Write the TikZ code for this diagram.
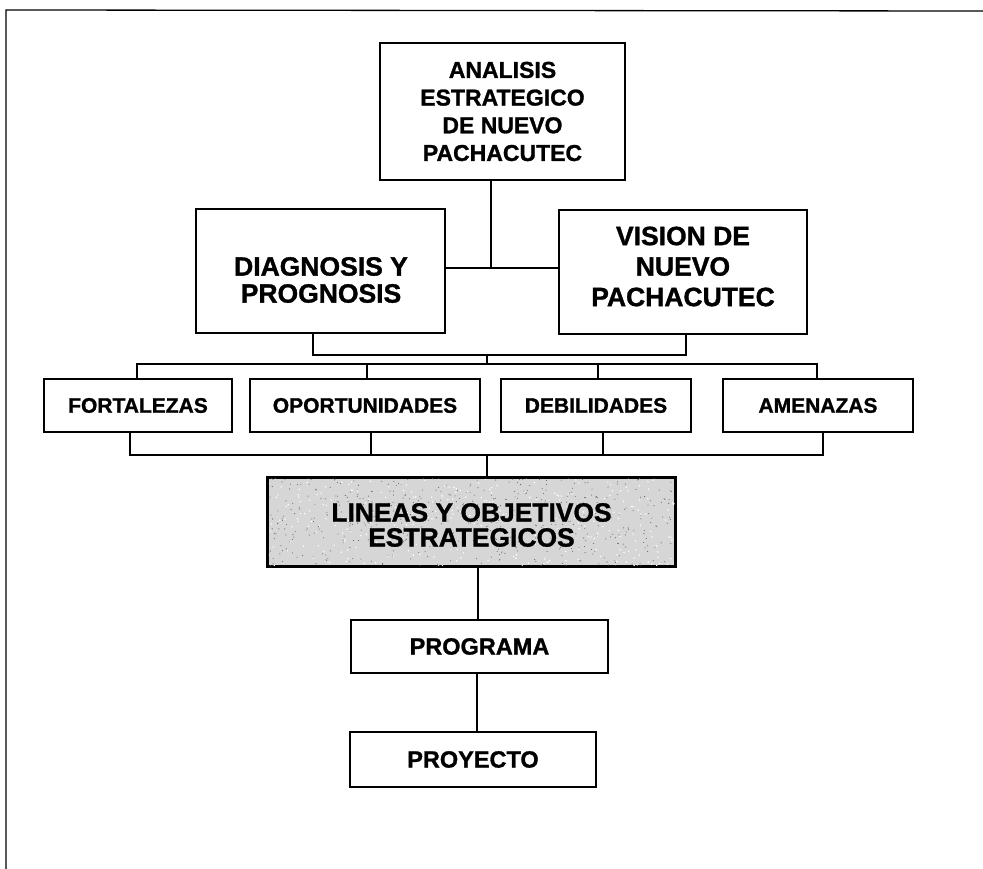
\documentclass[tikz,border=0pt]{standalone}
\usepackage{fontspec}
\setmainfont{Liberation Sans}[BoldFeatures={FakeBold=1.2}]
\usetikzlibrary{calc}
\begin{document}
\begin{tikzpicture}[x=1pt,y=-1pt,
  box/.style={draw=black,line width=1.6pt,fill=white,align=center,inner sep=0pt,
    font=\bfseries},
  txt/.style={align=center,inner sep=0pt},
  conn/.style={draw=black,line width=1.4pt},
  frame/.style={draw=black,line width=1.3pt}]
\useasboundingbox (0,0) rectangle (983,869);
% outer frame (continues beyond right and bottom edges)
\draw[frame] (6,869) -- (6,10) -- (983,11);

% nodes
\node[box,minimum width=245pt,minimum height=137pt,font={\bfseries\fontsize{23}{27.7}\selectfont}]
  (ana) at (502.5,111.5) {ANALISIS\\ESTRATEGICO\\DE NUEVO\\PACHACUTEC};
\node[box,minimum width=249pt,minimum height=124pt] (diag) at (320.5,271) {};
\node[txt,font={\bfseries\fontsize{26.5}{27}\selectfont}]
  (diagt) at (321,280) {DIAGNOSIS Y\\PROGNOSIS};
\node[box,minimum width=248pt,minimum height=124pt] (vis) at (683,272) {};
\node[txt,font={\bfseries\fontsize{26.5}{30.5}\selectfont}]
  (vist) at (683,266.5) {VISION DE\\NUEVO\\PACHACUTEC};

\tikzset{small/.style={box,minimum height=53pt,font={\bfseries\fontsize{21}{24}\selectfont}}}
\node[small,minimum width=188pt] (fort) at (138,405.5) {FORTALEZAS};
\node[small,minimum width=230pt] (opor) at (365,405.5) {OPORTUNIDADES};
\node[small,minimum width=190pt] (deb) at (596,405.5) {DEBILIDADES};
\node[small,minimum width=190pt] (ame) at (818,405.5) {AMENAZAS};

\node[box,fill=black!16,minimum width=407pt,minimum height=88pt] (lin) at (471.5,522) {};
% speckle texture of the scanned grey fill
\begin{scope}
  \clip (lin.south west) rectangle (lin.north east);
  \pgfmathsetseed{11}
  \foreach \i in {1,...,520}{
    \pgfmathsetmacro{\px}{268+407*rnd}
    \pgfmathsetmacro{\py}{478+88*rnd}
    \fill[black!60] (\px,\py) circle (0.55pt);
  }
  \foreach \i in {1,...,300}{
    \pgfmathsetmacro{\px}{268+407*rnd}
    \pgfmathsetmacro{\py}{478+88*rnd}
    \fill[white] (\px,\py) circle (0.8pt);
  }
\end{scope}
\draw[line width=1.6pt] (lin.south west) rectangle (lin.north east);
\node[txt,font={\bfseries\fontsize{26.4}{25}\selectfont}]
  (lint) at (471.5,525) {LINEAS Y OBJETIVOS\\ESTRATEGICOS};

\tikzset{low/.style={box,font={\bfseries\fontsize{23.5}{26}\selectfont}}}
\node[low,minimum width=257pt,minimum height=53pt] (prog) at (479.5,646.5) {PROGRAMA};
\node[low,minimum width=246pt,minimum height=55pt] (proy) at (473,759.5) {PROYECTO};

% junction coordinates
\coordinate (j1) at (491,268);
\coordinate (dv) at (487,355);
\coordinate (t4) at (487,364);
\coordinate (b4) at (487,455);
\coordinate (xd) at (313,0);
\coordinate (xv) at (686,0);
\coordinate (xf1) at (137,0);
\coordinate (xo1) at (367,0);
\coordinate (xd1) at (598,0);
\coordinate (xa1) at (817,0);
\coordinate (xf2) at (130,0);
\coordinate (xo2) at (371,0);
\coordinate (xd2) at (603,0);
\coordinate (xa2) at (823,0);
\coordinate (xp1) at (478,0);
\coordinate (xp2) at (477,0);

% connectors
\draw[conn] (ana.south -| j1) -- (j1);
\draw[conn] (diag.east |- j1) -- (vis.west |- j1);
\draw[conn] (diag.south -| xd) |- (dv) -| (vis.south -| xv);
\draw[conn] (dv) -- (t4);
\draw[conn] (fort.north -| xf1) |- (t4) -| (ame.north -| xa1);
\draw[conn] (opor.north -| xo1) -- (t4 -| xo1);
\draw[conn] (deb.north -| xd1) -- (t4 -| xd1);
\draw[conn] (fort.south -| xf2) |- (b4) -| (ame.south -| xa2);
\draw[conn] (opor.south -| xo2) -- (b4 -| xo2);
\draw[conn] (deb.south -| xd2) -- (b4 -| xd2);
\draw[conn] (b4) -- (lin.north -| b4);
\draw[conn] (lin.south -| xp1) -- (prog.north -| xp1);
\draw[conn] (prog.south -| xp2) -- (proy.north -| xp2);
\end{tikzpicture}
\end{document}
